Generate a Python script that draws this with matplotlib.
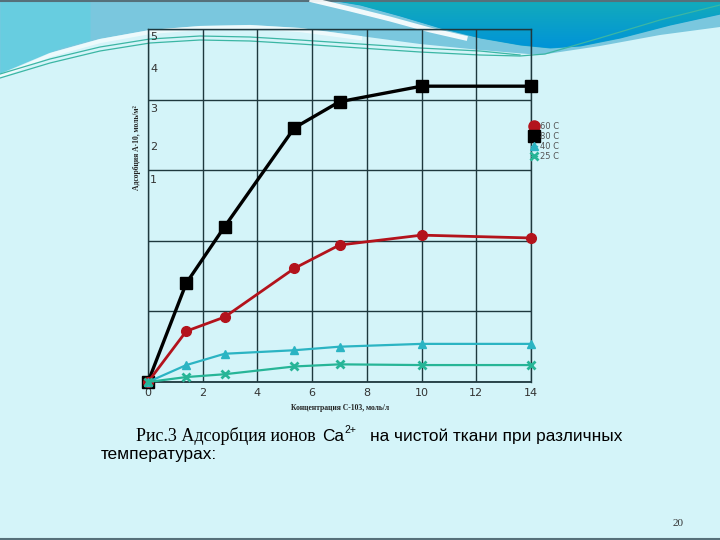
import numpy as np
import matplotlib
matplotlib.use('Agg')
import matplotlib.pyplot as plt
from matplotlib.lines import Line2D

# data
conc = [0, 1.4, 2.8, 5.35, 7.0, 10.0, 14.0]
ads_80 = [0, 1.40, 2.20, 3.60, 3.97, 4.19, 4.19]
ads_60 = [0, 0.72, 0.92, 1.61, 1.94, 2.08, 2.04]
ads_40 = [0, 0.24, 0.40, 0.45, 0.50, 0.54, 0.54]
ads_25 = [0, 0.07, 0.11, 0.22, 0.25, 0.24, 0.24]

x_ticks = [0, 2, 4, 6, 8, 10, 12, 14]
y_grid = [0, 1, 2, 3, 4, 5]
# the odd y labels of the original sit off the grid lines
y_labels = ['5', '4', '3', '2', '1']
y_label_pos = [4.89, 4.43, 3.87, 3.33, 2.86]

W, H = 720, 540
fig = plt.figure(figsize=(7.2, 5.4), dpi=100)
fig.patch.set_facecolor('#d4f4f9')

# slide decoration (pixel coords, y down)
bg = fig.add_axes([0, 0, 1, 1], zorder=-1)
bg.set_xlim(0, W)
bg.set_ylim(H, 0)
bg.axis('off')

lx = [0, 50, 100, 150, 200, 250, 300, 360, 420, 480, 540, 600, 660, 720]
ly = [74, 53, 39, 30, 26, 25, 28, 36, 44, 50, 55, 46, 35, 27]
bg.fill_between(lx, 0, ly, color='#7ac7de', lw=0)
bg.plot(lx[:8], [v + 2 for v in ly[:8]], color='white', lw=3, alpha=0.6)
bg.fill_between([0, 30, 60, 90], 0, [74, 61, 48, 40], color='#5fd0e2', lw=0, alpha=0.7)

dx = [330, 360, 400, 440, 480, 520, 550, 580, 620, 670, 720]
dy = [0, 5, 16, 28, 38, 45, 48, 46, 38, 25, 14]
dark = bg.fill_between(dx, 0, dy, color='#0aa0cc', lw=0)
grad = np.linspace(0, 1, 64).reshape(-1, 1)
cmap = matplotlib.colors.LinearSegmentedColormap.from_list('g', ['#13abbb', '#0093d9'])
im = bg.imshow(grad, extent=[330, 720, 50, 0], cmap=cmap, aspect='auto', zorder=2)
im.set_clip_path(dark.get_paths()[0], transform=bg.transData)
bg.plot([312, 350, 390, 430, 465], [0, 9, 19, 30, 38], color='white', lw=3.5, alpha=0.9, zorder=3)

wx = [0, 50, 100, 150, 200, 250, 300, 360, 420, 480, 520, 545, 600, 660, 720]
wy = [78, 63, 51, 43, 40, 41, 44, 48, 52, 55, 56, 54, 38, 20, 5]
bg.plot(wx, wy, color='#3bb6a4', lw=0.9, zorder=4)
bg.plot(wx[:11], [v - 4 for v in wy[:10]] + [55], color='#3bb6a4', lw=0.9, zorder=4)
bg.axhline(0.5, color='#56707a', lw=1.5)
bg.axhline(539, color='#56707a', lw=1.5)

# chart
ax = fig.add_axes([148 / W, 158 / H, 383 / W, 353 / H])
ax.patch.set_visible(False)
ax.set_xlim(0, 14)
ax.set_ylim(0, 5)
ax.set_xticks(x_ticks)
ax.set_yticks(y_grid)
ax.set_yticklabels([])
ax.tick_params(length=0, labelsize=8, colors='#333333', pad=4)
ax.grid(True, color='#1e383e', lw=1)
for s in ax.spines.values():
    s.set_color('#1e383e')
    s.set_linewidth(1)
ax.spines['bottom'].set_linewidth(1.3)

for lbl, yp in zip(y_labels, y_label_pos):
    ax.text(0.08, yp, lbl, fontsize=8, color='#333333', va='center', ha='left')

ax.plot(conc, ads_80, color='black', lw=2.4, marker='s', ms=9, zorder=3, clip_on=False)
ax.plot(conc, ads_60, color='#b3131c', lw=2.0, marker='o', ms=7, zorder=4, clip_on=False)
ax.plot(conc, ads_40, color='#2bb4c3', lw=1.6, marker='^', ms=6, zorder=5, clip_on=False)
ax.plot(conc, ads_25, color='#27b597', lw=1.6, marker='x', ms=6, mew=2, zorder=6, clip_on=False)

fig.text(340 / W, 1 - 408 / H, 'Концентрация С-103, моль/л', fontsize=5.5,
         family='Liberation Serif', weight='bold', color='#222222', ha='center', va='center')
fig.text(137 / W, 1 - 148 / H, 'Адсорбция А·10, моль/м²', fontsize=5.5, rotation=90,
         family='Liberation Serif', weight='bold', color='#222222', ha='center', va='center')

handles = [
    Line2D([], [], color='#b3131c', marker='o', ms=8, lw=1),
    Line2D([], [], color='black', marker='s', ms=8, lw=1),
    Line2D([], [], color='#2bb4c3', marker='^', ms=6, lw=1),
    Line2D([], [], color='#27b597', marker='x', ms=6, mew=2, lw=1),
]
fig.legend(handles, ['60 C', '80 C', '40 C', '25 C'], loc='upper left',
           bbox_to_anchor=(527 / W, 1 - 118 / H), fontsize=6, handlelength=0.7,
           handletextpad=0.4, labelspacing=0.1, frameon=False, borderpad=0,
           labelcolor='#555555')

# caption: serif start, then sans
fig.text(136 / W, 1 - 441 / H, 'Рис.3 Адсорбция ионов', family='Liberation Serif',
         fontsize=13, va='baseline', ha='left')
sans = dict(family='Liberation Sans', fontsize=12.4, va='baseline', ha='left')
fig.text(322 / W, 1 - 441 / H, 'Ca', **sans)
fig.text(344 / W, 1 - 433 / H, '2+', family='Liberation Sans', fontsize=7.5, va='baseline', ha='left')
fig.text(370 / W, 1 - 441 / H, 'на чистой ткани при различных', **sans)
fig.text(101 / W, 1 - 459 / H, 'температурах:', **sans)

fig.text(678 / W, 1 - 523 / H, '20', family='Liberation Serif', fontsize=8,
         color='#333333', ha='center', va='center')

fig.savefig('out.png', dpi=100, facecolor=fig.get_facecolor())
